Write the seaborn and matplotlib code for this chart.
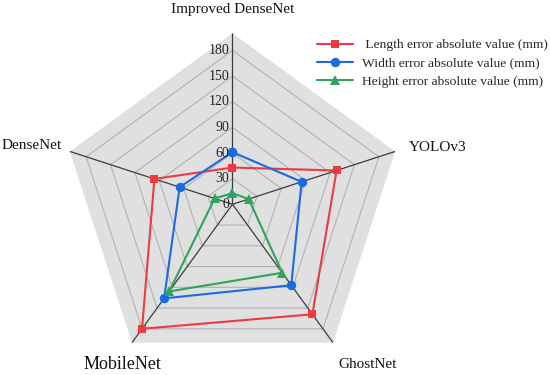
"""Radar chart: absolute size-estimation errors of five networks."""
import matplotlib
matplotlib.use("Agg")
import matplotlib.pyplot as plt
import numpy as np
import seaborn as sns

# categories (clockwise from top)
models = ["Improved DenseNet", "YOLOv3", "GhostNet", "MobileNet", "DenseNet"]

# series values (mm)
length_err = [43, 128, 159, 180, 96]
width_err = [61, 85, 117, 136, 65]
height_err = [13, 20, 99, 126, 22]

series_labels = [
    " Length error absolute value (mm)",
    "Width error absolute value (mm)",
    "Height error absolute value (mm)",
]
r_ticks = [0, 30, 60, 90, 120, 150, 180]
r_rings = [30, 60, 90, 120, 150, 180]
r_max = 200

C_RED = "#ef3a40"
C_BLUE = "#1b6be0"
C_GREEN = "#2ea45c"
C_FILL = "#e0e0e0"
C_RING = "#b2b2b2"
C_SPOKE = "#3c3c3c"

sns.set_style("white")
plt.rcParams["font.family"] = ["Liberation Serif", "DejaVu Serif"]

fig = plt.figure(figsize=(5.5, 3.75), dpi=100)
ax = fig.add_axes([0.1118, -0.0008, 0.6218, 0.912], projection="polar")
ax.set_theta_zero_location("N")
ax.set_theta_direction(-1)

n = len(models)
theta = np.linspace(0, 2 * np.pi, n, endpoint=False)
theta_c = np.append(theta, theta[0] + 2 * np.pi)


def closed(vals):
    return list(vals) + [vals[0]]


# background pentagon, rings and spokes
ax.fill(theta_c, [r_max] * (n + 1), color=C_FILL, zorder=0, lw=0)
for r in r_rings:
    ax.plot(theta_c, [r] * (n + 1), color=C_RING, lw=0.8, zorder=1)
for t in theta:
    ax.plot([t, t], [0, r_max], color=C_SPOKE, lw=0.9, zorder=2)

handles = []
for vals, color, marker, ms, lab in [
    (length_err, C_RED, "s", 6.0, series_labels[0]),
    (width_err, C_BLUE, "o", 6.8, series_labels[1]),
    (height_err, C_GREEN, "^", 6.5, series_labels[2]),
]:
    sns.lineplot(
        x=theta_c, y=closed(vals), sort=False, ax=ax, color=color, legend=False,
        marker=marker, markersize=ms, markeredgewidth=0, lw=1.5, zorder=3,
    )
    line = ax.lines[-1]
    line.set_label(lab)
    handles.append(line)

ax.set_ylim(0, r_max)
ax.set_xticks([])
ax.set_yticks([])
ax.set_xlabel("")
ax.set_ylabel("")
ax.grid(False)
ax.spines["polar"].set_visible(False)
ax.set_facecolor("none")
if ax.get_legend() is not None:
    ax.get_legend().remove()

# radial tick labels along the top spoke
for r in r_ticks:
    ax.annotate(str(r), xy=(0, r), xytext=(-3, 0), textcoords="offset pixels",
                ha="right", va="center", fontsize=10, color="#222222", zorder=5)

# category labels
label_pos = {
    "Improved DenseNet": ((0, 24), "center", 11),
    "YOLOv3": ((14, 4), "left", 11),
    "GhostNet": ((35, -22), "center", 11),
    "MobileNet": ((-10, -22), "center", 13),
    "DenseNet": ((-8, 6), "right", 11),
}
for t, name in zip(theta, models):
    off, ha, fs = label_pos[name]
    ax.annotate(name, xy=(t, r_max), xytext=off, textcoords="offset pixels",
                ha=ha, va="center", fontsize=fs, color="#111111")

fig.legend(
    handles=handles, loc="upper left", bbox_to_anchor=(317 / 550, 1 - 39 / 375),
    frameon=False, fontsize=9.7, handlelength=2.67, handletextpad=0.65,
    labelspacing=0.42, borderpad=0, borderaxespad=0,
)

fig.savefig("out.png", dpi=100, facecolor="white")
